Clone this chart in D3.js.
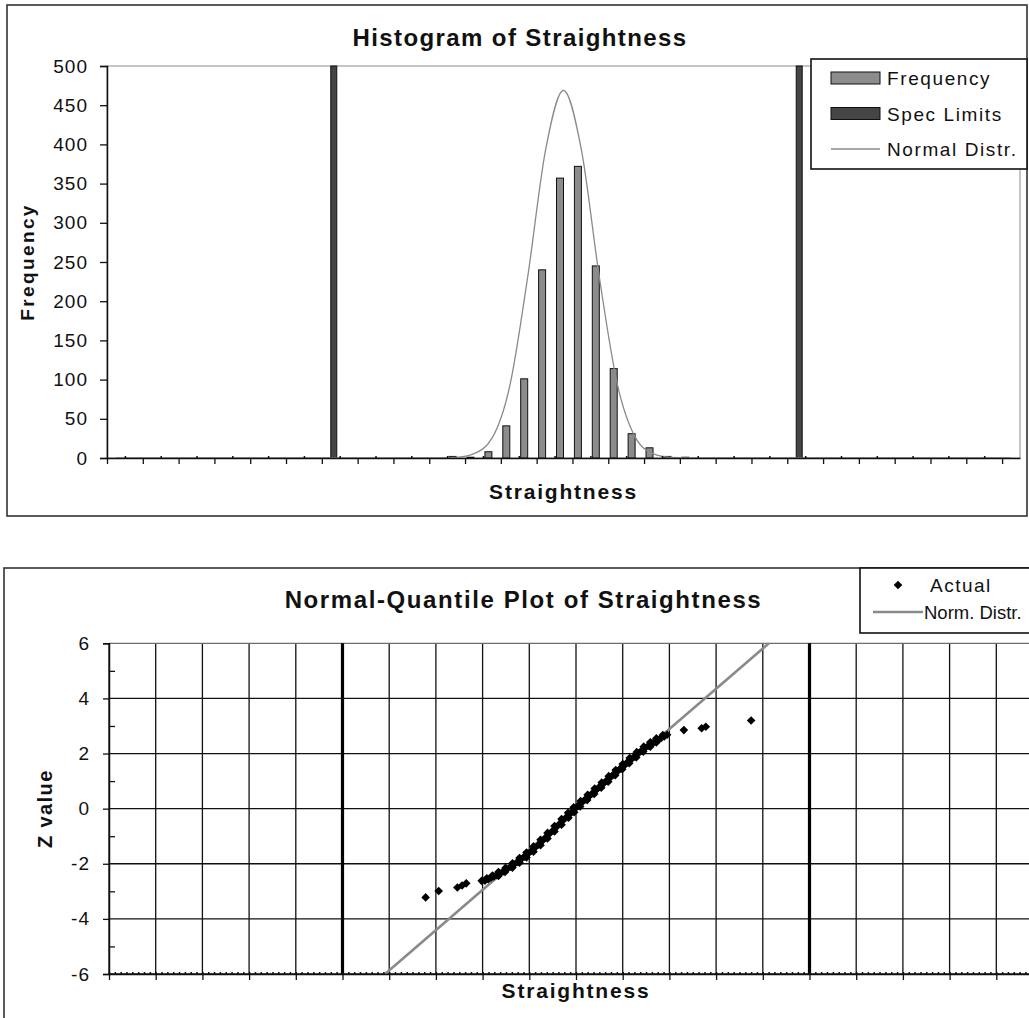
<!DOCTYPE html>
<html>
<head>
<meta charset="utf-8">
<script src="https://cdn.jsdelivr.net/npm/d3@7"></script>
<style>
  body { margin: 0; background: #fff; }
  svg { display: block; font-family: "Liberation Sans", Arial, sans-serif; }
</style>
</head>
<body>
<svg id="chart" width="1029" height="1018"></svg>
<script>
// ---- DATA ----
// histogram bins (51 categories, no labels shown on the axis)
const binIndex = d3.range(51);

const freqCounts = [
  0, 0, 0, 0, 0, 0, 0, 0, 0, 0,
  0, 0, 0, 0, 0, 0, 0, 0, 0, 2,
  1, 8, 41, 101, 240, 357, 372, 245, 114, 31,
  13, 2, 1, 0, 0, 0, 0, 0, 0, 0,
  0, 0, 0, 0, 0, 0, 0, 0, 0, 0,
  0
];

const normalCurve = [
  0, 0, 0, 0, 0, 0, 0, 0, 0, 0,
  0, 0, 0, 0, 0, 0, 0, 0, 0.1, 0.8,
  5.6, 25, 92, 231, 393, 469, 393, 231, 95, 27,
  5.6, 0.8, 0.1, 0, 0, 0, 0, 0, 0, 0,
  0, 0, 0, 0, 0, 0, 0, 0, 0, 0,
  0
];

const specLimitBins = [12, 38];
const specLimitHeight = 500;

const histYTicks = [0, 50, 100, 150, 200, 250, 300, 350, 400, 450, 500];

// normal-quantile plot: [straightness, z]
const lowTail = [
  [6.78, -3.22], [7.06, -2.99], [7.46, -2.86], [7.56, -2.79], [7.65, -2.71], [7.98, -2.62]
];

const denseBand = [
  [8.05, -2.61], [8.12, -2.56], [8.18, -2.51], [8.24, -2.46], [8.30, -2.41],
  [8.37, -2.35], [8.44, -2.28], [8.52, -2.20], [8.60, -2.11], [8.67, -2.03],
  [8.75, -1.93], [8.82, -1.84], [8.90, -1.74], [8.97, -1.64], [9.05, -1.53],
  [9.12, -1.42], [9.20, -1.30], [9.27, -1.18], [9.35, -1.05], [9.42, -0.93],
  [9.50, -0.80], [9.57, -0.68], [9.65, -0.55], [9.72, -0.43], [9.80, -0.30],
  [9.86, -0.20], [9.92, -0.10], [9.98, 0.00], [10.05, 0.11], [10.13, 0.23],
  [10.20, 0.34], [10.28, 0.45], [10.35, 0.56], [10.43, 0.68], [10.50, 0.79],
  [10.58, 0.90], [10.65, 1.01], [10.73, 1.13], [10.80, 1.24], [10.88, 1.35],
  [10.95, 1.46], [11.03, 1.57], [11.10, 1.68], [11.18, 1.79], [11.25, 1.89],
  [11.33, 2.00], [11.40, 2.10], [11.48, 2.20], [11.55, 2.28], [11.62, 2.36],
  [11.68, 2.43], [11.75, 2.50], [11.82, 2.56], [11.89, 2.62], [11.95, 2.68],
  // overlapping points below the centre of the band
  [8.34, -2.44], [8.48, -2.30], [8.64, -2.14], [8.79, -1.96], [8.94, -1.77],
  [9.09, -1.56], [9.24, -1.33], [9.39, -1.08], [9.54, -0.83], [9.69, -0.58],
  [9.84, -0.33], [9.96, -0.13], [10.09, 0.08], [10.24, 0.31], [10.39, 0.53],
  [10.54, 0.76], [10.69, 0.98], [10.84, 1.21], [10.99, 1.43], [11.14, 1.65],
  [11.29, 1.86], [11.44, 2.07], [11.59, 2.25], [11.72, 2.40],
  // overlapping points above the centre of the band
  [8.09, -2.53], [8.21, -2.43], [8.34, -2.30], [8.49, -2.15], [8.64, -1.98],
  [8.79, -1.79], [8.94, -1.59], [9.09, -1.37], [9.24, -1.13], [9.39, -0.88],
  [9.54, -0.63], [9.69, -0.38], [9.83, -0.15], [9.95, 0.05], [10.10, 0.28],
  [10.25, 0.50], [10.40, 0.73], [10.55, 0.95], [10.70, 1.18], [10.85, 1.40],
  [11.00, 1.62], [11.15, 1.84], [11.30, 2.05], [11.45, 2.25], [11.59, 2.41],
  [11.72, 2.55], [11.86, 2.67]
];

const highTail = [
  [12.31, 2.85], [12.69, 2.92], [12.78, 2.97], [13.75, 3.20]
];

const normLine = [[5.91, -6], [14.13, 6]];
const specLimitsX = [5, 15];
const qqYTicks = [-6, -4, -2, 0, 2, 4, 6];
const qqYMinor = [-5, -3, -1, 1, 3, 5];

// ---- SETUP ----
const svg = d3.select("#chart");
const INK = "#111";

function styleAxis(g) {
  g.select(".domain").attr("stroke", INK).attr("stroke-width", 1.5);
  g.selectAll(".tick line").attr("stroke", INK).attr("stroke-width", 1.3);
  g.selectAll(".tick text")
    .attr("fill", INK)
    .attr("font-size", 19)
    .style("letter-spacing", "1px")
    .attr("font-family", null);
}

// ================= HISTOGRAM =================
const hist = { left: 107, right: 1020, top: 66, bottom: 458 };

svg.append("rect")
  .attr("x", 7).attr("y", 5)
  .attr("width", 1020).attr("height", 511)
  .attr("fill", "#fff")
  .attr("stroke", "#333")
  .attr("stroke-width", 1.6);

const hx = d3.scaleBand().domain(binIndex).range([hist.left, hist.right]).padding(0);
const hxSub = d3.scaleBand().domain(["freq", "spec"]).range([0, hx.bandwidth()]).paddingOuter(0.28);
const hxEdge = d3.scaleLinear().domain([0, binIndex.length]).range([hist.left, hist.right]);
const hy = d3.scaleLinear().domain([0, 500]).range([hist.bottom, hist.top]);

// plot area frame (grey)
svg.append("rect")
  .attr("x", hist.left).attr("y", hist.top)
  .attr("width", hist.right - hist.left).attr("height", hist.bottom - hist.top)
  .attr("fill", "none")
  .attr("stroke", "#8c8c8c")
  .attr("stroke-width", 1);

// frequency bars
svg.append("g").selectAll("rect")
  .data(binIndex.filter(i => freqCounts[i] > 0))
  .join("rect")
  .attr("x", i => hx(i) + hxSub("freq"))
  .attr("y", i => hy(freqCounts[i]))
  .attr("width", hxSub.bandwidth())
  .attr("height", i => hy(0) - hy(freqCounts[i]))
  .attr("fill", "#8c8c8c")
  .attr("stroke", INK)
  .attr("stroke-width", 1);

// spec limit bars
svg.append("g").selectAll("rect")
  .data(specLimitBins)
  .join("rect")
  .attr("x", i => hx(i) + hxSub("spec"))
  .attr("y", hy(specLimitHeight))
  .attr("width", hxSub.bandwidth() - 1)
  .attr("height", hy(0) - hy(specLimitHeight))
  .attr("fill", "#454545")
  .attr("stroke", INK)
  .attr("stroke-width", 1);

// normal distribution curve (smoothed like the spreadsheet line)
const curveLine = d3.line()
  .x((d, i) => hx(i) + hx.bandwidth() / 2)
  .y(d => hy(d))
  .curve(d3.curveMonotoneX);

svg.append("path")
  .datum(normalCurve)
  .attr("d", curveLine)
  .attr("fill", "none")
  .attr("stroke", "#8a8a8a")
  .attr("stroke-width", 1.3);

// y axis
svg.append("g")
  .attr("transform", `translate(${hist.left},0)`)
  .call(d3.axisLeft(hy).tickValues(histYTicks).tickSize(7).tickPadding(12).tickFormat(d => String(d)))
  .call(styleAxis);

// x axis: major ticks every 2 bins (outside), minor ticks on odd bin edges (inside)
const evenEdges = d3.range(0, binIndex.length, 2);
const oddEdges = d3.range(1, binIndex.length, 2);

svg.append("g")
  .attr("transform", `translate(0,${hist.bottom})`)
  .call(d3.axisBottom(hxEdge).tickValues(evenEdges).tickSize(6).tickSizeOuter(0).tickFormat(""))
  .call(styleAxis);

svg.append("g")
  .attr("transform", `translate(0,${hist.bottom})`)
  .call(d3.axisBottom(hxEdge).tickValues(oddEdges).tickSize(-2).tickFormat(""))
  .call(g => g.select(".domain").remove())
  .call(g => g.selectAll(".tick line").attr("stroke", INK).attr("stroke-width", 1.5));

// titles
svg.append("text")
  .attr("x", 520).attr("y", 46)
  .attr("text-anchor", "middle")
  .attr("font-size", 24).attr("font-weight", "bold")
  .style("letter-spacing", "1.4px")
  .attr("fill", INK)
  .text("Histogram of Straightness");

svg.append("text")
  .attr("x", (hist.left + hist.right) / 2).attr("y", 499)
  .attr("text-anchor", "middle")
  .attr("font-size", 21).attr("font-weight", "bold")
  .style("letter-spacing", "1.8px")
  .attr("fill", INK)
  .text("Straightness");

svg.append("text")
  .attr("transform", `translate(34,${(hist.top + hist.bottom) / 2}) rotate(-90)`)
  .attr("text-anchor", "middle")
  .attr("font-size", 19).attr("font-weight", "bold")
  .style("letter-spacing", "2.4px")
  .attr("fill", INK)
  .text("Frequency");

// legend
const legTop = svg.append("g").attr("transform", "translate(811,59)");
legTop.append("rect")
  .attr("width", 216).attr("height", 110)
  .attr("fill", "#fff")
  .attr("stroke", INK)
  .attr("stroke-width", 1.6);

const legItems = [
  { label: "Frequency", type: "bar", fill: "#8c8c8c" },
  { label: "Spec Limits", type: "bar", fill: "#454545" },
  { label: "Normal Distr.", type: "line", fill: "#8a8a8a" }
];

legItems.forEach((d, i) => {
  const cy = 19 + i * 35.5;
  if (d.type === "bar") {
    legTop.append("rect")
      .attr("x", 20).attr("y", cy - 6)
      .attr("width", 49).attr("height", 12)
      .attr("fill", d.fill)
      .attr("stroke", INK).attr("stroke-width", 1);
  } else {
    legTop.append("line")
      .attr("x1", 20).attr("x2", 69)
      .attr("y1", cy).attr("y2", cy)
      .attr("stroke", d.fill).attr("stroke-width", 1.5);
  }
  legTop.append("text")
    .attr("x", 76).attr("y", cy + 7)
    .attr("font-size", 19)
    .style("letter-spacing", "1.6px")
    .attr("fill", INK)
    .text(d.label);
});

// ================= NORMAL-QUANTILE PLOT =================
const qq = { left: 109, right: 1043, top: 643.3, bottom: 974 };

svg.append("rect")
  .attr("x", 4).attr("y", 568)
  .attr("width", 1100).attr("height", 500)
  .attr("fill", "#fff")
  .attr("stroke", "#333")
  .attr("stroke-width", 1.6);

const qx = d3.scaleLinear().domain([0, 20]).range([qq.left, qq.right]);
const qy = d3.scaleLinear().domain([-6, 6]).range([qq.bottom, qq.top]);

// grid
svg.append("g").selectAll("line")
  .data(qx.ticks(20))
  .join("line")
  .attr("x1", d => qx(d)).attr("x2", d => qx(d))
  .attr("y1", qy(-6)).attr("y2", qy(6))
  .attr("stroke", INK).attr("stroke-width", 1.3);

svg.append("g").selectAll("line")
  .data(qqYTicks.filter(d => d !== 6))
  .join("line")
  .attr("x1", qx(0)).attr("x2", qx(20))
  .attr("y1", d => qy(d)).attr("y2", d => qy(d))
  .attr("stroke", INK).attr("stroke-width", 1.3);

svg.append("line")
  .attr("x1", qx(0)).attr("x2", qx(20))
  .attr("y1", qy(6)).attr("y2", qy(6))
  .attr("stroke", "#6e6e6e").attr("stroke-width", 1.3);

// spec limits
svg.append("g").selectAll("line")
  .data(specLimitsX)
  .join("line")
  .attr("x1", d => qx(d)).attr("x2", d => qx(d))
  .attr("y1", qy(-6)).attr("y2", qy(6))
  .attr("stroke", "#000").attr("stroke-width", 3.2);

// normal line
svg.append("path")
  .datum(normLine)
  .attr("d", d3.line().x(d => qx(d[0])).y(d => qy(d[1])))
  .attr("fill", "none")
  .attr("stroke", "#8a8a8a")
  .attr("stroke-width", 2.6);

// actual points
const diamond = "M0,-4.3L4.3,0L0,4.3L-4.3,0Z";
svg.append("g").selectAll("path")
  .data([...lowTail, ...denseBand, ...highTail])
  .join("path")
  .attr("transform", d => `translate(${qx(d[0])},${qy(d[1])})`)
  .attr("d", diamond)
  .attr("fill", "#000");

// y axis
svg.append("g")
  .attr("transform", `translate(${qq.left},0)`)
  .call(d3.axisLeft(qy).tickValues(qqYTicks).tickSize(6).tickPadding(13).tickFormat(d => String(d)))
  .call(styleAxis);

svg.append("g")
  .attr("transform", `translate(${qq.left},0)`)
  .call(d3.axisLeft(qy).tickValues(qqYMinor).tickSize(-6).tickFormat(""))
  .call(g => g.select(".domain").remove())
  .call(g => g.selectAll(".tick line").attr("stroke", INK).attr("stroke-width", 1.3));

// x axis
svg.append("g")
  .attr("transform", `translate(0,${qq.bottom})`)
  .call(d3.axisBottom(qx).ticks(20).tickSize(6).tickSizeOuter(0).tickFormat(""))
  .call(styleAxis);

svg.append("g")
  .attr("transform", `translate(0,${qq.bottom})`)
  .call(d3.axisBottom(qx).tickValues(d3.range(0, 20, 0.125)).tickSize(-2).tickFormat(""))
  .call(g => g.select(".domain").remove())
  .call(g => g.selectAll(".tick line").attr("stroke", INK).attr("stroke-width", 1.5));

// titles
svg.append("text")
  .attr("x", 523.5).attr("y", 608)
  .attr("text-anchor", "middle")
  .attr("font-size", 24).attr("font-weight", "bold")
  .style("letter-spacing", "1.6px")
  .attr("fill", INK)
  .text("Normal-Quantile Plot of Straightness");

svg.append("text")
  .attr("x", (qq.left + qq.right) / 2).attr("y", 998)
  .attr("text-anchor", "middle")
  .attr("font-size", 21).attr("font-weight", "bold")
  .style("letter-spacing", "1.8px")
  .attr("fill", INK)
  .text("Straightness");

svg.append("text")
  .attr("transform", `translate(52,${(qq.top + qq.bottom) / 2}) rotate(-90)`)
  .attr("text-anchor", "middle")
  .attr("font-size", 20).attr("font-weight", "bold")
  .style("letter-spacing", "1.4px")
  .attr("fill", INK)
  .text("Z value");

// legend (box runs off the right edge like the original)
const legQQ = svg.append("g").attr("transform", "translate(860,568)");
legQQ.append("rect")
  .attr("width", 220).attr("height", 65)
  .attr("fill", "#fff")
  .attr("stroke", INK)
  .attr("stroke-width", 1.6);

legQQ.append("path")
  .attr("transform", "translate(38,17)")
  .attr("d", diamond)
  .attr("fill", "#000");

legQQ.append("text")
  .attr("x", 70).attr("y", 24)
  .attr("font-size", 19)
  .style("letter-spacing", "1.5px")
  .attr("fill", INK)
  .text("Actual");

legQQ.append("line")
  .attr("x1", 13).attr("x2", 63)
  .attr("y1", 44).attr("y2", 44)
  .attr("stroke", "#8a8a8a").attr("stroke-width", 2.6);

legQQ.append("text")
  .attr("x", 64).attr("y", 51)
  .attr("font-size", 18.5)
  .style("letter-spacing", "0px")
  .attr("fill", INK)
  .text("Norm. Distr.");
</script>
</body>
</html>
